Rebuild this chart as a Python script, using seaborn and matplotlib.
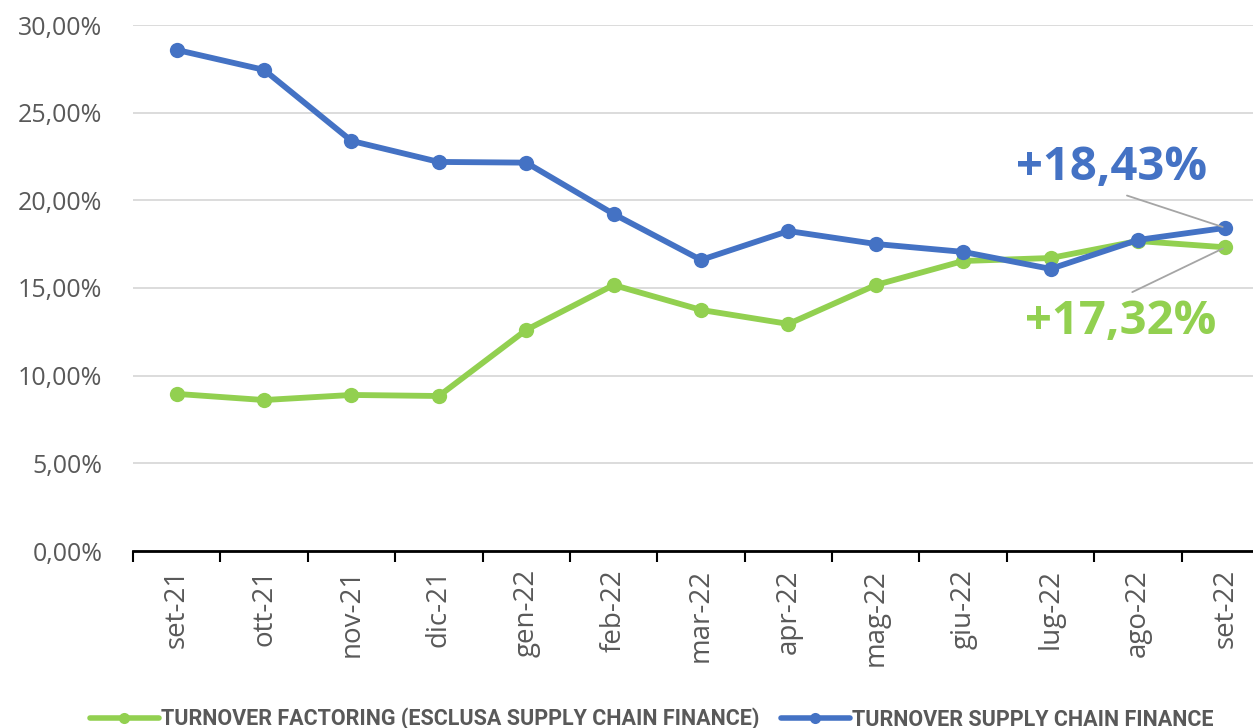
import numpy as np
import pandas as pd
import seaborn as sns
import matplotlib.pyplot as plt
from matplotlib.ticker import FuncFormatter, FixedLocator

months = ["set-21", "ott-21", "nov-21", "dic-21", "gen-22", "feb-22", "mar-22",
          "apr-22", "mag-22", "giu-22", "lug-22", "ago-22", "set-22"]
factoring = [8.96, 8.61, 8.90, 8.84, 12.61, 15.17, 13.75, 12.95, 15.17, 16.54, 16.71, 17.68, 17.32]
scf = [28.58, 27.44, 23.39, 22.19, 22.15, 19.22, 16.60, 18.25, 17.51, 17.06, 16.09, 17.74, 18.43]

name_fact = "TURNOVER FACTORING (ESCLUSA SUPPLY CHAIN FINANCE)"
name_scf = "TURNOVER SUPPLY CHAIN FINANCE"
green = "#92D050"
blue = "#4472C4"
grey_txt = "#595959"

df = pd.DataFrame({
	"x": list(range(len(months))) * 2,
	"value": factoring + scf,
	"serie": [name_fact] * len(months) + [name_scf] * len(months),
})

sns.set_theme(style="white")
plt.rcParams['font.family'] = ['Open Sans', 'DejaVu Sans']

fig = plt.figure(figsize=(12.53, 7.28), dpi=100)
ax = fig.add_axes([133 / 1253, 177 / 728, 1136 / 1253, 526 / 728])

sns.lineplot(data=df, x="x", y="value", hue="serie", palette=[green, blue],
	marker="o", markersize=11, markeredgewidth=0, linewidth=4.2, ax=ax, legend=False)

ax.set_xlim(-0.5, len(months) - 0.5)
ax.set_ylim(0, 30)
ax.set_yticks(np.arange(0, 30.1, 5))
ax.yaxis.set_major_formatter(FuncFormatter(lambda v, p: ("%.2f%%" % v).replace(".", ",")))
ax.grid(axis="y", color="#D9D9D9", linewidth=1.3)
ax.set_axisbelow(True)

# ticks at category borders, labels centred
ax.xaxis.set_major_locator(FixedLocator(np.arange(-0.5, len(months), 1)))
ax.xaxis.set_minor_locator(FixedLocator(np.arange(len(months))))
ax.set_xticklabels([], minor=False)
ax.set_xticklabels(months, minor=True, rotation=90)
ax.tick_params(axis="x", which="major", direction="out", length=8, width=1.5, color="black", bottom=True)
ax.tick_params(axis="x", which="minor", length=0, pad=13, labelsize=20, labelcolor=grey_txt)
ax.tick_params(axis="y", length=0, labelsize=18, labelcolor=grey_txt, pad=22)

for s in ["top", "right", "left"]:
	ax.spines[s].set_visible(False)
ax.spines["bottom"].set_color("black")
ax.spines["bottom"].set_linewidth(2)
ax.set_xlabel("")
ax.set_ylabel("")

last = len(months) - 1
ax.annotate(("+%.2f%%" % scf[-1]).replace(".", ","), xy=(last, scf[-1]), xytext=(last - 1.3, 21.9),
	ha="center", va="center", fontsize=34, fontweight="bold", color=blue,
	arrowprops=dict(arrowstyle="-", color="#A5A5A5", lw=1.3, shrinkA=4, shrinkB=2,
		relpos=(0.5, 0)))
ax.annotate(("+%.2f%%" % factoring[-1]).replace(".", ","), xy=(last, factoring[-1]), xytext=(last - 1.2, 13.1),
	ha="center", va="center", fontsize=34, fontweight="bold", color=green,
	arrowprops=dict(arrowstyle="-", color="#A5A5A5", lw=1.3, shrinkA=4, shrinkB=2,
		relpos=(0.5, 1)))

h1 = plt.Line2D([], [], color=green, lw=4, marker="o", markersize=8, markeredgewidth=0)
h2 = plt.Line2D([], [], color=blue, lw=4, marker="o", markersize=8, markeredgewidth=0)
leg = fig.legend([h1, h2], [name_fact, name_scf], loc="center", bbox_to_anchor=(0.52, 0.012),
	ncol=2, frameon=False, handlelength=3.2, handletextpad=0.1, columnspacing=1.0,
	prop={"family": "Roboto", "weight": "bold", "size": 15.5})
for t in leg.get_texts():
	t.set_color(grey_txt)

fig.savefig("out.png", dpi=100)
